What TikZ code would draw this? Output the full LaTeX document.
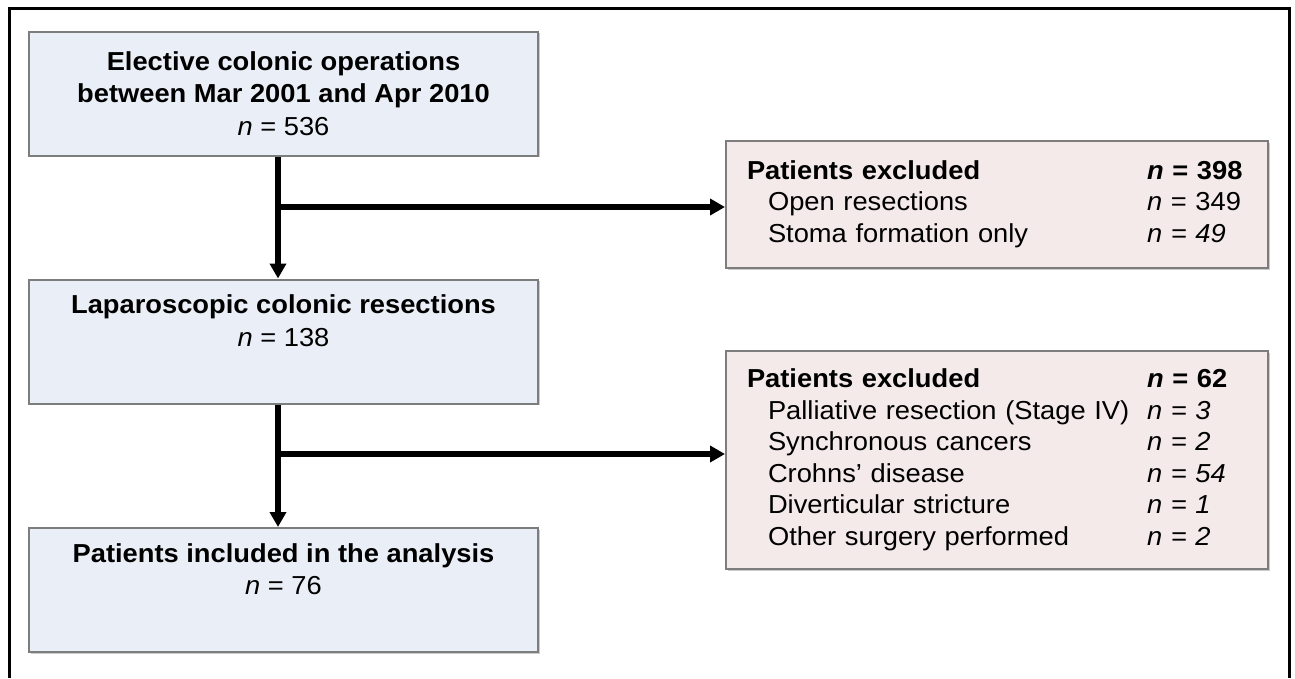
\documentclass[tikz,border=0pt]{standalone}
\usepackage{fontspec}
\setmainfont[FakeStretch=1.05]{Liberation Sans}
\usepackage{tikz}
\usetikzlibrary{arrows.meta,positioning,shadows}
\definecolor{inblue}{RGB}{234,239,247}
\definecolor{expink}{RGB}{245,234,234}
\definecolor{boxgray}{RGB}{125,125,125}
\newcommand{\ncount}[1]{\textit{n} = #1}
\tikzset{
  >=Stealth,
  inbox/.style={rectangle, draw=boxgray, line width=2pt, fill=inblue, minimum width=509pt, minimum height=124pt, inner sep=0pt, align=center, font=\fontsize{26}{32.5}\selectfont, drop shadow={shadow xshift=1.5pt, shadow yshift=-1.5pt, fill=gray!80}},
  exbox/.style={rectangle, draw=boxgray, line width=2pt, fill=expink, text width=500pt, inner xsep=21pt, inner ysep=0pt, align=left, font=\fontsize{26}{31.5}\selectfont, drop shadow={shadow xshift=1.5pt, shadow yshift=-1.5pt, fill=gray!80}},
  flow/.style={line width=5.5pt, -{Triangle[length=15pt,width=16pt]}},
  branch/.style={line width=5.5pt}
}

\begin{document}
\begin{tikzpicture}[x=1pt, y=-1pt]
  \useasboundingbox (0,0) rectangle (1295,678);
  % --- Setup Definitions ---
  \def\spinex{278}   % x of the vertical flow line
  \def\cx{283.5}     % centre of the left column

  % --- Frame (open at the bottom) ---
  \draw[line width=3pt] (9,678) -- (9,8) -- (1289,8) -- (1289,678);

  % --- Left column ---
  \node[inbox] (elective) at (\cx,93.5) {\textbf{Elective colonic operations}\\ \textbf{between Mar 2001 and Apr 2010}\\ \ncount{536}};
  \node[inbox] (lapres) at (\cx,341.5) {\textbf{Laparoscopic colonic resections}\\ \ncount{138}\\ \strut};
  \node[inbox] (included) at (\cx,590) {\textbf{Patients included in the analysis}\\ \ncount{76}\\ \strut};

  % --- Exclusion boxes ---
  \node[exbox, minimum height=127pt] (excl1) at (997,204.5) {%
    \begin{tabular}{@{}p{400pt}@{}l@{}}
      \textbf{Patients excluded} & \textbf{\textit{n} = 398}\\
      \hspace*{21pt}Open resections & \ncount{349}\\
      \hspace*{21pt}Stoma formation only & \textit{n = 49}
    \end{tabular}};
  \node[exbox, minimum height=218pt] (excl2) at (997,460) {%
    \begin{tabular}{@{}p{400pt}@{}l@{}}
      \textbf{Patients excluded} & \textbf{\textit{n} = 62}\\
      \hspace*{21pt}Palliative resection (Stage IV) & \textit{n = 3}\\
      \hspace*{21pt}Synchronous cancers & \textit{n = 2}\\
      \hspace*{21pt}Crohns’ disease & \textit{n = 54}\\
      \hspace*{21pt}Diverticular stricture & \textit{n = 1}\\
      \hspace*{21pt}Other surgery performed & \textit{n = 2}
    \end{tabular}};

  % --- Branch points ---
  \coordinate (split1) at (\spinex,207);
  \coordinate (split2) at (\spinex,454);

  % --- Connectors ---
  \draw[flow] (elective.south -| split1) -- (lapres.north -| split1);
  \draw[flow] (lapres.south -| split2) -- (included.north -| split2);
  \draw[flow] (split1) -- (split1 -| excl1.west);
  \draw[flow] (split2) -- (split2 -| excl2.west);
\end{tikzpicture}
\end{document}
